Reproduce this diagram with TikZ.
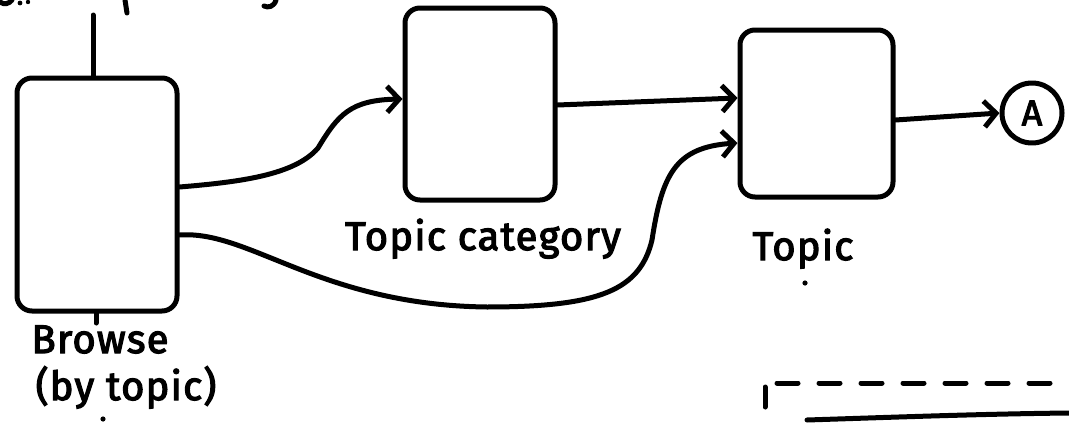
\documentclass[tikz,border=0pt]{standalone}
\usepackage{fontspec}
\setmainfont{Fira Sans}[FakeBold=3, LetterSpace=3]
\usetikzlibrary{arrows.meta}
\begin{document}
\begin{tikzpicture}[x=1pt,y=-1pt,
  ink/.style={line width=5pt, line cap=round, line join=round, draw=black},
  card/.style={ink, rounded corners=15pt, inner sep=0pt},
  bubble/.style={ink, circle, inner sep=0pt, minimum size=60pt,
                 font=\fontsize{36}{40}\selectfont},
  flow/.style={ink, -{Straight Barb[length=12pt,width=26pt]}},
  caption/.style={font=\fontsize{40}{44}\selectfont, anchor=base, inner sep=0pt},
]
\useasboundingbox (0,0) rectangle (1069,423);

% page cards
\node[card, minimum width=160pt, minimum height=233pt] (browse) at (97,194.5) {};
\node[card, minimum width=150pt, minimum height=192pt] (cat) at (480,104) {};
\node[card, minimum width=153pt, minimum height=167pt] (topic) at (816.5,113.5) {};
\node[bubble] (A) at (1032,113) {A};

% captions
\node[caption] (catlabel) at (483,250) {Topic category};
\node[caption] (topiclabel) at (803,260) {Topic};
\node[caption] (browselabel) at (100,353) {Browse};
\node[caption] (bylabel) at (126,400) {(by topic)};

% loose ends above and below the browse card
\coordinate (upend) at (93,15);
\coordinate (downend) at (96,323);
\draw[ink] (upend) -- (upend |- browse.north);
\draw[ink] (downend) -- (downend |- browse.south);

% links between pages
\draw[flow] (browse.east |- 0,187)
  .. controls (240,182) and (295,175) .. (318,148)
  .. controls (338,115) and (350,100) .. (cat.west |- 0,99);
\draw[flow] (browse.east |- 0,235)
  .. controls (250,230) and (320,305) .. (487,307)
  .. controls (600,307) and (640,290) .. (652,240)
  .. controls (662,175) and (675,147) .. (topic.west |- 0,143);
\draw[flow] (cat.east |- 0,105) -- (topic.west |- 0,98);
\draw[flow] (topic.east |- 0,120) -- (A.west);

% stray pen marks
\fill (805,283) circle (2.6pt);
\fill (103,419) circle (2.6pt);

% text running off the top edge
\draw[ink] (0,2) .. controls (4,5) and (9,4) .. (12,0);
\fill (20,3) circle (2.4pt);
\fill (28,2) circle (2.2pt);
\draw[ink] (125,0) -- (127,13);
\draw[ink] (276,0) .. controls (274,7) and (268,8) .. (264,6);

% partial card at the lower right
\draw[ink] (765,387) -- (765,407);
\draw[ink, dash pattern=on 21pt off 21pt] (777,383) -- (1069,383);
\draw[ink] (807,420) .. controls (900,417) and (980,414) .. (1069,413);
\end{tikzpicture}
\end{document}
